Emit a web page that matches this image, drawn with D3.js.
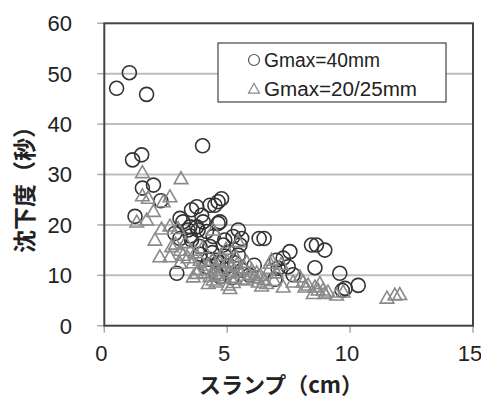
<!DOCTYPE html>
<html><head><meta charset="utf-8">
<script src="https://cdn.jsdelivr.net/npm/d3@7"></script>
<style>body{margin:0;background:#fff}</style>
</head><body>
<svg id="c" width="481" height="400"></svg>
<script>
// Series: Gmax=40mm (circles)
const slump40 = [0.5,1.02,1.72,4.0,1.15,1.52,1.55,2.0,2.3,1.25,3.08,2.95,3.55,3.76,3.96,4.3,4.5,4.63,4.77,4.7,4.02,3.76,3.41,3.2,3.48,3.82,4.16,2.87,3.08,3.55,4.43,4.63,4.84,3.89,4.3,4.9,5.24,4.57,4.98,4.7,4.16,5.45,5.59,5.52,6.3,6.5,7.0,7.55,7.28,7.07,7.48,6.94,7.68,8.43,8.63,8.97,8.57,9.58,9.68,9.8,10.33,5.3,5.6,5.9,5.2,6.1,4.4,3.9,4.9,4.55,5.45,3.5,4.25,4.65,5.05];
const time40  = [47.1,50.2,45.9,35.7,32.9,33.9,27.3,27.9,24.8,21.7,21.3,10.4,23.0,23.6,21.9,23.9,23.9,24.6,25.2,20.6,20.6,19.6,19.0,20.6,19.6,19.0,18.7,18.3,17.3,17.0,17.7,20.3,16.0,15.7,15.7,17.0,17.7,13.0,11.7,9.7,11.7,19.0,17.3,16.0,17.3,17.3,13.0,14.7,13.4,11.4,11.7,9.2,10.1,16.0,16.0,15.0,11.5,10.4,7.0,7.4,8.0,12.5,11.0,10.0,9.5,12.0,14.5,14.2,13.8,10.5,14.0,17.8,13.2,12.6,14.6];
// Series: Gmax=20/25mm (triangles)
const slump20 = [1.55,3.12,1.55,1.79,2.67,2.4,2.0,1.32,1.72,2.06,2.33,2.67,3.0,2.26,2.67,2.74,3.08,3.62,3.76,4.23,4.43,5.11,5.04,5.79,6.4,6.26,6.74,6.8,6.74,7.28,7.68,7.96,8.16,8.09,8.29,8.5,8.57,8.77,8.7,8.9,8.97,9.1,9.45,9.72,11.5,11.82,12.02,5.45,4.43,
  3.3,3.5,3.4,3.7,3.9,3.6,4.0,4.2,4.1,4.4,4.5,4.3,4.6,4.7,4.8,4.9,5.0,5.1,5.2,5.3,5.4,5.5,5.6,5.7,5.8,5.9,6.0,6.1,6.2,6.5,6.6,5.35,4.75,3.85,3.2,2.9,3.1,4.95,5.25,4.55,6.35,7.0,7.2,6.9];
const time20  = [30.4,29.2,25.8,25.3,25.6,24.6,22.7,20.6,21.0,17.0,19.2,19.8,19.3,13.7,13.7,15.7,12.4,9.7,10.4,8.4,9.1,7.4,8.1,9.1,7.9,8.7,12.4,13.0,11.4,7.7,8.7,9.7,7.7,8.7,8.1,6.4,7.7,8.4,7.1,7.1,6.4,6.7,6.1,6.7,5.5,6.1,6.2,16.7,19.0,
  16.5,15.0,13.5,14.5,13.0,12.5,15.5,12.0,10.5,13.0,11.5,9.8,10.0,12.5,11.0,9.5,12.8,10.5,11.8,9.6,12.2,10.8,9.3,11.5,12.6,10.2,11.0,9.5,10.5,9.2,8.4,13.6,14.0,11.2,14.0,16.2,15.0,15.2,8.6,8.7,10.0,10.5,12.2,9.0];
const xTicks = [0,5,10,15];
const yTicks = [0,10,20,30,40,50,60];
const legendLabels = ["Gmax=40mm","Gmax=20/25mm"];
const xTitle = "スランプ（cm）";
const yTitle = "沈下度（秒）";

const svg = d3.select("#c");
const L=104.3, R=473, T=23.3, B=325.7;
const x = d3.scaleLinear().domain([0,15]).range([L,R]);
const y = d3.scaleLinear().domain([0,60]).range([B,T]);

// gridlines
svg.append("g").selectAll("line").data(yTicks.filter(v=>v>0&&v<60)).join("line")
  .attr("x1",L).attr("x2",R).attr("y1",d=>y(d)).attr("y2",d=>y(d))
  .attr("stroke","#bdbdbd").attr("stroke-width",2);

// y axis ticks & labels
svg.append("g").selectAll("line").data(yTicks).join("line")
  .attr("x1",L-7).attr("x2",L).attr("y1",d=>y(d)).attr("y2",d=>y(d))
  .attr("stroke","#aaa").attr("stroke-width",1.5);
svg.append("g").selectAll("text").data(yTicks).join("text")
  .attr("x",72).attr("y",d=>y(d)).attr("dy","0.36em").attr("text-anchor","end")
  .attr("font-family","'Liberation Sans',Arial,sans-serif").attr("font-size",22).attr("fill","#222")
  .text(d=>d);
// x axis ticks & labels
svg.append("g").selectAll("line").data(xTicks).join("line")
  .attr("x1",d=>x(d)).attr("x2",d=>x(d)).attr("y1",B).attr("y2",B+7)
  .attr("stroke","#aaa").attr("stroke-width",1.5);
svg.append("g").selectAll("text").data(xTicks).join("text")
  .attr("x",d=>x(d)-3).attr("y",361).attr("text-anchor","middle")
  .attr("font-family","'Liberation Sans',Arial,sans-serif").attr("font-size",22).attr("fill","#222")
  .text(d=>d);

// plot frame
svg.append("rect").attr("x",L).attr("y",T).attr("width",R-L).attr("height",B-T)
  .attr("fill","none").attr("stroke","#444").attr("stroke-width",2);

// circles
svg.append("g").selectAll("circle").data(d3.range(slump40.length)).join("circle")
  .attr("cx",i=>x(slump40[i])).attr("cy",i=>y(time40[i])).attr("r",7)
  .attr("fill","none").attr("stroke","#333").attr("stroke-width",1.6);
// triangles
const tri = (cx,cy,s)=>`M${cx},${cy-s}L${cx-s},${cy+s*0.75}L${cx+s},${cy+s*0.75}Z`;
svg.append("g").selectAll("path").data(d3.range(slump20.length)).join("path")
  .attr("d",i=>tri(x(slump20[i]),y(time20[i]),6.8))
  .attr("fill","none").attr("stroke","#8a8a8a").attr("stroke-width",1.6);

// legend
const lg = svg.append("g");
lg.append("rect").attr("x",218).attr("y",43).attr("width",228).attr("height",59)
  .attr("fill","#fff").attr("stroke","#444").attr("stroke-width",1.2);
lg.append("circle").attr("cx",254).attr("cy",60).attr("r",5.5).attr("fill","none").attr("stroke","#555").attr("stroke-width",1.2);
lg.append("path").attr("d",tri(254,89,5.5)).attr("fill","none").attr("stroke","#888").attr("stroke-width",1.2);
lg.selectAll("text").data(legendLabels).join("text")
  .attr("x",264).attr("y",(d,i)=>67+i*29)
  .attr("font-family","'Liberation Sans',Arial,sans-serif").attr("font-size",20).attr("fill","#222")
  .attr("textLength",(d,i)=>i===0?116:153).attr("lengthAdjust","spacingAndGlyphs")
  .text(d=>d);

// axis titles
svg.append("text").attr("x",281).attr("y",393).attr("text-anchor","middle")
  .attr("font-family","'Noto Sans CJK JP',sans-serif").attr("font-weight","bold").attr("font-size",22).attr("fill","#222")
  .text(xTitle);
svg.append("text").attr("transform","translate(33,184) rotate(-90)").attr("text-anchor","middle")
  .attr("font-family","'Noto Sans CJK JP',sans-serif").attr("font-weight","bold").attr("font-size",23).attr("fill","#222")
  .text(yTitle);
</script>
</body></html>
